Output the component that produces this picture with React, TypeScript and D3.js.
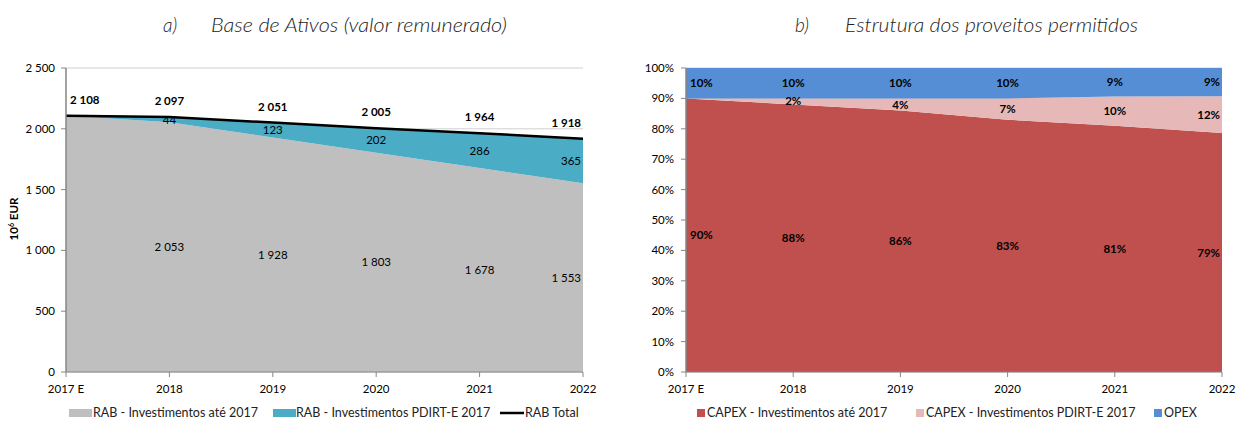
import React from "react";
import * as d3 from "d3";

// categories
const years = ["2017 E", "2018", "2019", "2020", "2021", "2022"];

// a) Base de Ativos, 10^6 EUR
const rabAte2017 = [2108, 2053, 1928, 1803, 1678, 1553];
const rabPdirt = [0, 44, 123, 202, 286, 365];
const rabTotal = [2108, 2097, 2051, 2005, 1964, 1918];
const rabTicks = [0, 500, 1000, 1500, 2000, 2500];

// b) Estrutura dos proveitos permitidos, % (labels are rounded)
const capexAte2017 = [90, 88, 86, 83, 81, 78.6];
const capexPdirt = [0, 2, 4, 7, 9.6, 12.1];
const opex = [10, 10, 10, 10, 9.4, 9.3];
const pctTicks = [0, 10, 20, 30, 40, 50, 60, 70, 80, 90, 100];

const FONT = "Lato, 'Open Sans', sans-serif";
const AXIS = "#868686";
const GRID = "#d0d0d0";

const ptLocale = d3.formatLocale({ decimal: ",", thousands: " ", grouping: [3], currency: ["", " €"] });
const fmtNum = ptLocale.format(",.0f");
const fmtPct = (v: number) => `${Math.round(v)}%`;

// data label x: pushed inside the plot at the first and last category
function labelX(i: number, x: number, n: number) {
  if (i === 0) return { x: x + 4, anchor: "start" };
  if (i === n - 1) return { x: x - 2, anchor: "end" };
  return { x, anchor: "middle" };
}

function Grid({ x, y, ticks }: any) {
  const [x0, x1] = x.range();
  return (
    <g>
      {ticks.map((t: number) => (
        <line key={"g" + t} x1={x0} x2={x1} y1={y(t)} y2={y(t)} stroke={GRID} strokeWidth={1} />
      ))}
    </g>
  );
}

function AxisLines({ x, y, ticks, fmt, labelRight }: any) {
  const [x0] = x.range();
  const [yb, yt] = y.range();
  return (
    <g fontFamily={FONT} fontSize={11.5} fill="#000">
      <line x1={x0} x2={x0} y1={yt} y2={yb} stroke={AXIS} strokeWidth={1.5} />
      <line x1={x0} x2={x.range()[1]} y1={yb} y2={yb} stroke={AXIS} strokeWidth={1} />
      {ticks.map((t: number) => (
        <g key={"t" + t}>
          <line x1={x0 - 5} x2={x0} y1={y(t)} y2={y(t)} stroke={AXIS} />
          <text x={labelRight} y={y(t)} dy="0.35em" textAnchor="end">{fmt(t)}</text>
        </g>
      ))}
      {years.map((c) => (
        <g key={"x" + c}>
          <line x1={x(c)} x2={x(c)} y1={yb} y2={yb + 5} stroke={AXIS} />
          <text x={x(c)} y={yb + 17} dy="0.35em" textAnchor="middle">{c}</text>
        </g>
      ))}
    </g>
  );
}

function Title({ tag, tagX, text, textX, width }: any) {
  const st = { fontFamily: FONT, fontStyle: "italic", fontWeight: 300, fontSize: 19, fill: "#222" } as any;
  return (
    <g>
      <text x={tagX} y={32} {...st}>{tag}</text>
      <text x={textX} y={32} {...st} textLength={width} lengthAdjust="spacingAndGlyphs">{text}</text>
    </g>
  );
}

function ChartRAB() {
  const x = d3.scalePoint<string>().domain(years).range([66, 583]);
  const y = d3.scaleLinear().domain([0, 2500]).range([372, 68]);
  const rows = years.map((c, i) => ({ c, base: rabAte2017[i], pdirt: rabPdirt[i] }));
  const stack = d3.stack<any>().keys(["base", "pdirt"])(rows);
  const area = d3.area<any>().x((d) => x(d.data.c)!).y0((d) => y(d[0])).y1((d) => y(d[1]));
  const line = d3.line<number>().x((_, i) => x(years[i])!).y((d) => y(d));
  const colors = ["#bfbfbf", "#4bacc6"];
  const n = years.length;
  return (
    <g>
      <Title tag="a)" tagX={163} text="Base de Ativos (valor remunerado)" textX={211} width={296} />
      <Grid x={x} y={y} ticks={rabTicks} />
      {stack.map((s, k) => (
        <path key={k} d={area(s) || ""} fill={colors[k]} />
      ))}
      <path d={line(rabTotal) || ""} fill="none" stroke="#000" strokeWidth={2.5} />
      <AxisLines x={x} y={y} ticks={rabTicks} fmt={fmtNum} labelRight={55} />
      <g fontFamily={FONT} fontSize={11.5} fill="#000">
        {rabAte2017.map((v, i) => {
          if (i === 0) return null;
          const p = labelX(i, x(years[i])!, n);
          return <text key={"b" + i} x={p.x} textAnchor={p.anchor} y={y(v / 2)} dy="0.35em">{fmtNum(v)}</text>;
        })}
        {rabPdirt.map((v, i) => {
          if (i === 0) return null;
          const p = labelX(i, x(years[i])!, n);
          return <text key={"p" + i} x={p.x} textAnchor={p.anchor} y={y(rabAte2017[i] + v / 2)} dy="0.35em">{fmtNum(v)}</text>;
        })}
        {rabTotal.map((v, i) => {
          const p = labelX(i, x(years[i])!, n);
          return (
            <text key={"t" + i} x={p.x} textAnchor={p.anchor} y={y(v) - 16} dy="0.35em" fontWeight={700}>{fmtNum(v)}</text>
          );
        })}
      </g>
      <text x={14} y={219} transform="rotate(-90 14 219)" textAnchor="middle" dy="0.35em" fontFamily={FONT} fontSize={11.5} fontWeight={700}>
        10<tspan fontSize={7} dy="-4">6</tspan><tspan dy="4"> EUR</tspan>
      </text>
      <g fontFamily={FONT} fontSize={12.5} fill="#222">
        <rect x={69} y={409} width={23} height={8} fill={colors[0]} />
        <text x={93} y={413} dy="0.35em">RAB - Investimentos até 2017</text>
        <rect x={273} y={409} width={23} height={8} fill={colors[1]} />
        <text x={296} y={413} dy="0.35em">RAB - Investimentos PDIRT-E 2017</text>
        <line x1={500} x2={524} y1={413} y2={413} stroke="#000" strokeWidth={2.5} />
        <text x={525} y={413} dy="0.35em">RAB Total</text>
      </g>
    </g>
  );
}

function ChartProveitos() {
  const x = d3.scalePoint<string>().domain(years).range([686, 1222]);
  const y = d3.scaleLinear().domain([0, 100]).range([372, 68]);
  const rows = years.map((c, i) => ({ c, base: capexAte2017[i], pdirt: capexPdirt[i], opex: opex[i] }));
  const keys = ["base", "pdirt", "opex"];
  const stack = d3.stack<any>().keys(keys).offset(d3.stackOffsetExpand)(rows);
  const y100 = (v: number) => y(v * 100);
  const area = d3.area<any>().x((d) => x(d.data.c)!).y0((d) => y100(d[0])).y1((d) => y100(d[1]));
  const colors = ["#c0504d", "#e6b9b8", "#558ed5"];
  const n = years.length;
  const legend = ["CAPEX - Investimentos até 2017", "CAPEX - Investimentos PDIRT-E 2017", "OPEX"];
  const legendX = [697, 916, 1154];
  return (
    <g>
      <Title tag="b)" tagX={795} text="Estrutura dos proveitos permitidos" textX={845} width={293} />
      <Grid x={x} y={y} ticks={pctTicks} />
      {stack.map((s, k) => (
        <path key={k} d={area(s) || ""} fill={colors[k]} />
      ))}
      <AxisLines x={x} y={y} ticks={pctTicks} fmt={fmtPct} labelRight={674} />
      <g fontFamily={FONT} fontSize={11.5} fontWeight={700} fill="#000">
        {stack.map((s, k) =>
          s.map((d, i) => {
            if (k === 1 && i === 0) return null;
            const p = labelX(i, x(years[i])!, n);
            return (
              <text key={k + "-" + i} x={p.x} textAnchor={p.anchor} y={y100((d[0] + d[1]) / 2)} dy="0.35em">
                {fmtPct((d[1] - d[0]) * 100)}
              </text>
            );
          })
        )}
      </g>
      <g fontFamily={FONT} fontSize={12.5} fill="#222">
        {legend.map((t, k) => (
          <g key={t}>
            <rect x={legendX[k]} y={409} width={8} height={8} fill={colors[k]} />
            <text x={legendX[k] + 10} y={413} dy="0.35em">{t}</text>
          </g>
        ))}
      </g>
    </g>
  );
}

export default function App() {
  return (
    <div>
      <style>{`body{margin:0}`}</style>
      <svg width={1236} height={422} style={{ display: "block", background: "#fff" }}>
        <ChartRAB />
        <ChartProveitos />
      </svg>
    </div>
  );
}
